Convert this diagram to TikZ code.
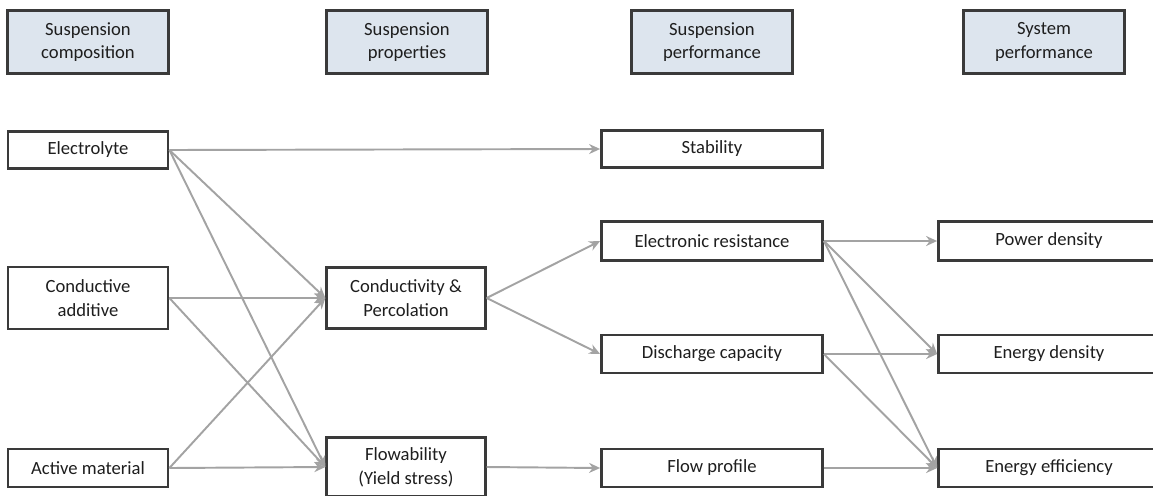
\documentclass[tikz,border=0pt]{standalone}
\usepackage{fontspec}
\setmainfont{Carlito}
\usetikzlibrary{arrows.meta}
\definecolor{boxline}{RGB}{58,58,58}
\definecolor{headfill}{RGB}{221,229,238}
\definecolor{arrowgray}{RGB}{163,163,163}
\definecolor{textdark}{RGB}{30,30,30}

\tikzset{
  item/.style={draw=boxline, fill=white, line width=1.6pt, text=textdark, align=center, inner sep=0pt},
  head/.style={item, fill=headfill, minimum width=3.22cm, minimum height=1.26cm},
  colone/.style={item, minimum width=3.2cm},
  coltwo/.style={item, minimum width=3.17cm},
  colthree/.style={item, minimum width=4.42cm},
  link/.style={draw=arrowgray, line width=1.1pt, -{Stealth[length=2.2mm,width=2mm]}},
}

\begin{document}
\begin{tikzpicture}[x=0.02cm, y=-0.02cm, font=\fontsize{10.6}{13.5}\selectfont]
\useasboundingbox (0,0) rectangle (1153,495);
% column headers
\node[head] (hcomp) at (88,42) {Suspension\\composition};
\node[head] (hprop) at (407,42) {Suspension\\properties};
\node[head] (hperf) at (712,42) {Suspension\\performance};
\node[head] (hsys) at (1044,42) {System\\performance};
% composition
\node[colone, minimum height=0.74cm] (elec) at (88,150) {Electrolyte};
\node[colone, minimum height=1.24cm] (cadd) at (88,298) {Conductive\\additive};
\node[colone, minimum height=0.76cm] (amat) at (88,468) {Active material};
% properties
\node[coltwo, minimum height=1.22cm] (perc) at (406,298) {Conductivity \&\\Percolation};
\node[coltwo, minimum height=1.18cm] (flow) at (406,467) {Flowability\\(Yield stress)};
% suspension performance
\node[colthree, minimum height=0.74cm] (stab) at (712,149) {Stability};
\node[colthree, minimum height=0.78cm] (eres) at (712,241) {Electronic resistance};
\node[colthree, minimum height=0.76cm] (dcap) at (712,354) {Discharge capacity};
\node[colthree, minimum height=0.76cm] (fprof) at (712,468) {Flow profile};
% system performance
\node[colthree, minimum height=0.78cm] (pden) at (1049,241) {Power density};
\node[colthree, minimum height=0.76cm] (eden) at (1049,354) {Energy density};
\node[colthree, minimum height=0.76cm] (eeff) at (1049,468) {Energy efficiency};
% links
\draw[link] (elec.east) -- (stab.west);
\draw[link] (elec.east) -- (perc.west);
\draw[link] (elec.east) -- (flow.west);
\draw[link] (cadd.east) -- (perc.west);
\draw[link] (cadd.east) -- (flow.west);
\draw[link] (amat.east) -- (perc.west);
\draw[link] (amat.east) -- (flow.west);
\draw[link] (perc.east) -- (eres.west);
\draw[link] (perc.east) -- (dcap.west);
\draw[link] (flow.east) -- (fprof.west);
\draw[link] (eres.east) -- (pden.west);
\draw[link] (eres.east) -- (eden.west);
\draw[link] (eres.east) -- (eeff.west);
\draw[link] (dcap.east) -- (eden.west);
\draw[link] (dcap.east) -- (eeff.west);
\draw[link] (fprof.east) -- (eeff.west);
\end{tikzpicture}
\end{document}
